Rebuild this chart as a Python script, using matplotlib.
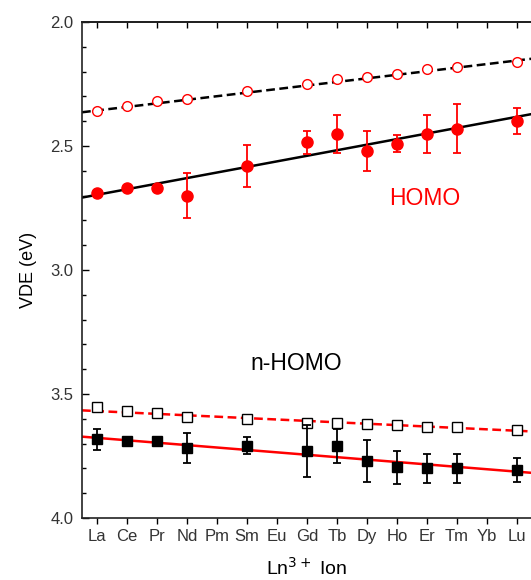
import numpy as np
import matplotlib
matplotlib.use('Agg')
import matplotlib.pyplot as plt
from matplotlib.ticker import MultipleLocator

plt.rcParams['font.family'] = ['Liberation Sans', 'DejaVu Sans']

ions = ['La', 'Ce', 'Pr', 'Nd', 'Pm', 'Sm', 'Eu', 'Gd', 'Tb', 'Dy', 'Ho', 'Er', 'Tm', 'Yb', 'Lu']

# points that have data (Pm, Eu, Yb missing)
pt_ions = ['La', 'Ce', 'Pr', 'Nd', 'Sm', 'Gd', 'Tb', 'Dy', 'Ho', 'Er', 'Tm', 'Lu']

homo_open = [2.36, 2.34, 2.32, 2.31, 2.28, 2.25, 2.23, 2.22, 2.21, 2.19, 2.18, 2.16]
homo_exp = [2.69, 2.67, 2.67, 2.70, 2.58, 2.485, 2.45, 2.52, 2.49, 2.45, 2.43, 2.40]
homo_err = [0.01, 0.01, 0.01, 0.09, 0.085, 0.047, 0.077, 0.08, 0.035, 0.077, 0.099, 0.052]

nhomo_open = [3.551, 3.567, 3.578, 3.593, 3.60, 3.618, 3.618, 3.62, 3.625, 3.633, 3.633, 3.645]
nhomo_exp = [3.683, 3.688, 3.688, 3.718, 3.708, 3.73, 3.711, 3.771, 3.796, 3.80, 3.80, 3.808]
nhomo_err = [0.042, 0.01, 0.01, 0.062, 0.034, 0.105, 0.068, 0.085, 0.067, 0.057, 0.057, 0.048]

# linear fit lines (end points)
fit_x = [-0.5, 14.5]
homo_open_fit = [2.364, 2.148]
homo_exp_fit = [2.708, 2.371]
nhomo_open_fit = [3.566, 3.651]
nhomo_exp_fit = [3.672, 3.818]

xpos = [ions.index(s) for s in pt_ions]

fig = plt.figure(figsize=(5.31, 5.80), dpi=100)
ax = fig.add_axes([82 / 531, 62 / 580, 450 / 531, 496 / 580])

# fit lines
ax.plot(fit_x, homo_open_fit, color='black', linestyle=(0, (3.5, 1.8)), linewidth=1.8, zorder=2)
ax.plot(fit_x, homo_exp_fit, color='black', linestyle='-', linewidth=1.8, zorder=2)
ax.plot(fit_x, nhomo_open_fit, color='red', linestyle=(0, (3.5, 1.8)), linewidth=1.8, zorder=2)
ax.plot(fit_x, nhomo_exp_fit, color='red', linestyle='-', linewidth=1.8, zorder=2)

# HOMO
ax.plot(xpos, homo_open, 'o', markersize=7, markerfacecolor='white',
        markeredgecolor='red', markeredgewidth=1.0, zorder=3)
ax.errorbar(xpos, homo_exp, yerr=homo_err, fmt='o', color='red', markersize=8,
            ecolor='red', elinewidth=1.3, capsize=3, capthick=1.3, zorder=3)

# n-HOMO
ax.plot(xpos, nhomo_open, 's', markersize=7, markerfacecolor='white',
        markeredgecolor='black', markeredgewidth=1.0, zorder=3)
ax.errorbar(xpos, nhomo_exp, yerr=nhomo_err, fmt='s', color='black', markersize=7.5,
            ecolor='black', elinewidth=1.3, capsize=3, capthick=1.3, zorder=3)

ax.text(10.93, 2.71, 'HOMO', color='red', fontsize=16.5, ha='center', va='center')
ax.text(6.63, 3.379, 'n-HOMO', color='black', fontsize=16.5, ha='center', va='center')

ax.set_xlim(-0.5, 14.5)
ax.set_ylim(4.0, 2.0)
ax.set_xticks(range(len(ions)))
ax.set_xticklabels(ions)
ax.yaxis.set_major_locator(MultipleLocator(0.5))
ax.yaxis.set_minor_locator(MultipleLocator(0.1))
ax.yaxis.set_major_formatter(matplotlib.ticker.FormatStrFormatter('%.1f'))

ax.tick_params(axis='y', which='major', direction='in', length=5, width=1, labelsize=12,
               labelcolor='#333333', pad=6)
ax.tick_params(axis='y', which='minor', direction='in', length=3, width=1)
ax.tick_params(axis='x', which='major', direction='out', length=4, width=1, labelsize=12,
               labelcolor='#333333', pad=4)

top = ax.secondary_xaxis('top')
top.set_xticks(range(len(ions)))
top.tick_params(direction='in', length=4, width=1, labeltop=False)
top.spines['top'].set_linewidth(1.2)

for s in ax.spines.values():
    s.set_linewidth(1.2)
    s.set_color('#222222')

ax.set_ylabel('VDE (eV)', fontsize=13, labelpad=10)
ax.set_xlabel('Ln$^{3+}$ Ion', fontsize=14, labelpad=9)

plt.savefig('out.png', dpi=100)
